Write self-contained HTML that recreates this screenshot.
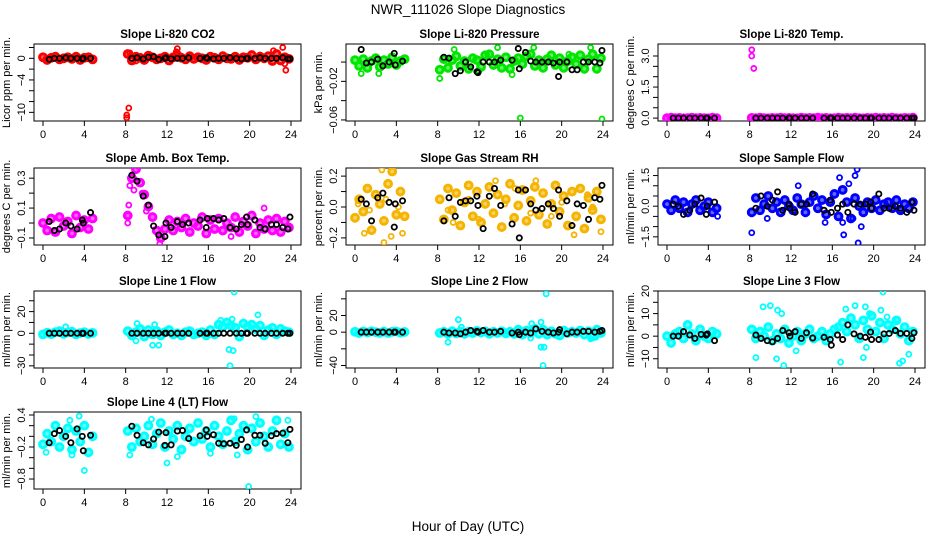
<!DOCTYPE html>
<html><head><meta charset="utf-8"><style>
html,body{margin:0;padding:0;background:#fff;}
svg{display:block;font-family:"Liberation Sans",sans-serif;}
</style></head><body>
<svg id="chart" width="936" height="540" viewBox="0 0 936 540" xmlns="http://www.w3.org/2000/svg">
<text x="468" y="14" text-anchor="middle" font-size="13.5">NWR_111026  Slope Diagnostics</text>
<text x="468" y="531" text-anchor="middle" font-size="13.5">Hour of Day (UTC)</text>
</svg>
<script>
const colorTimes=[0,0.4,0.8,1.2,1.6,2,2.4,2.8,3.2,3.6,4,4.4,4.8,8.2,8.6,9,9.4,9.8,10.2,10.6,11,11.4,11.8,12.2,12.6,13,13.4,13.8,14.2,14.6,15,15.4,15.8,16.2,16.6,17,17.4,17.8,18.2,18.6,19,19.4,19.8,20.2,20.6,21,21.4,21.8,22.2,22.6,23,23.4,23.8];
const blackTimes=[0.6,1.1,1.6,2.2,2.7,3.3,3.8,3.9,4.6,8.6,9.1,9.7,10.2,10.7,11.2,11.8,11.9,12.4,13.0,13.5,14.1,15.2,15.8,15.9,16.5,17.0,17.5,18.1,18.7,19.2,19.7,19.8,20.5,21.0,21.5,22.1,22.6,23.2,23.7,23.9];
const xTicks=[0,4,8,12,16,20,24];

const co2Color=[0.2,-0.3,0.1,0.3,-0.2,0,0.2,-0.1,0.3,-0.3,0.1,0.2,-0.2,0.8,-0.4,0.3,0.1,-0.3,0.5,0.2,-0.2,0,0.3,-0.4,0.2,0.6,0.1,-0.2,0.4,-0.1,0.2,0,-0.3,0.3,0.1,-0.2,0.4,0,-0.1,0.3,-0.3,0.2,0.1,0.6,-0.2,0.3,0,0.4,-0.5,0.8,-0.4,0.2,-0.1];
const co2Black=[-0.2,0,0,0.1,0,0,-0.1,0,0,0,0.1,-0.1,0.2,0.3,-0.2,0,0.1,-0.1,0,0,0.1,0,0.1,0,-0.1,0,0,0.1,0,-0.1,0,0,0,0.1,0,0,0,0.1,-0.1,-0.1];
const co2OutX=[8.1,8.1,8.3,8.4,8.5,13,12.9,22.3,23.2,23.5,23.4,9,21];
const co2OutY=[-10.5,-11,-9.2,1,0.5,1.8,1.2,1.4,2,-2.2,-1,-0.5,0.6];

const presColor=[0.002,-0.004,0.003,-0.006,0.001,0.004,-0.005,0.002,-0.002,0.005,-0.003,0.001,0.003,-0.008,0.003,-0.006,0.002,0.006,-0.004,0.001,-0.007,0.004,0.002,-0.005,0.007,0.008,-0.003,0.003,-0.006,0.005,-0.007,0.001,0.004,-0.002,0.006,0.008,-0.004,0.002,-0.006,0.003,0.007,-0.003,0.004,-0.006,0.001,0.005,-0.002,0.007,-0.007,0.003,0.008,-0.007,0.004];
const presBlack=[0.013,-0.001,0,0.003,-0.004,0,0.009,-0.003,0.001,0.005,0.004,-0.012,-0.009,0,-0.005,-0.01,-0.011,0,0,0,0.002,0.002,0.014,-0.007,0.01,0.001,0,0,0,-0.001,-0.015,0,0,-0.008,-0.008,0,0,0,-0.001,0.012];
const presOutX=[16,23.9,8.2,9.6,13.8,17.3,22.8,0.6,2.3,12.0,15.2,20.7];
const presOutY=[-0.058,-0.059,-0.017,0.013,0.015,0.015,0.015,-0.012,-0.012,-0.009,-0.013,0.008];

const ltColor=[0,0.02,0,0.01,-0.01,0,0.02,0,0.01,0,-0.01,0.02,0,0.01,0,0.02,0,-0.01,0.01,0,0.02,0,0.01,0,-0.01,0.02,0,0.01,0,0.02,0,0.01,-0.01,0,0.02,0,0.01,0,0.02,0,-0.01,0.01,0,0.02,0,0.01,0,0.02,0,-0.01,0.01,0,0.02];
const ltBlack=[0,0,0,0,0,0,0,0,0,0,0,0,0,0,0,0,0,0,0,0,0,0,0,0,0,0,0,0,0,0,0,0,0,0,0,0,0,0,0,0];
const ltOutX=[8.2,8.2,8.4];
const ltOutY=[3.3,3.0,2.4];

const abColor=[0,-0.05,0.03,-0.06,0.04,-0.02,0.01,-0.07,0.05,-0.03,0.02,-0.04,0.03,0.05,0.3,0.36,0.27,0.19,0.11,0.04,-0.05,-0.1,-0.04,0.02,-0.05,0.01,-0.03,0.03,-0.06,0,-0.02,0.04,-0.07,0.02,-0.04,0.03,-0.05,0,-0.03,0.04,-0.06,0.01,-0.02,0.05,-0.07,0,-0.04,0.02,-0.05,0.03,-0.06,0.01,-0.03];
const abBlack=[0.01,-0.05,-0.04,0,-0.02,-0.04,0.02,0,0.07,0.32,0.28,0.18,0.12,-0.02,-0.08,-0.09,0,-0.03,0.01,-0.01,0,0.02,-0.03,0.03,0.03,0.02,0.03,-0.03,-0.04,-0.01,0.04,-0.01,0.02,-0.03,-0.04,-0.01,-0.01,-0.03,-0.04,0.04];
const abOutX=[8.2,8.2,8.3,8.4,9.2,11.3,21.4,18.2,8.8,9.6,10.0];
const abOutY=[0.0,0.05,0.12,0.25,0.38,-0.14,0.1,-0.09,0.22,0.2,0.08];

const rhColor=[-0.07,0.05,-0.03,0.12,-0.15,0.08,0.02,-0.09,0.15,0.23,-0.05,0.1,-0.06,0.05,-0.08,0.12,-0.02,0.09,-0.12,0.03,0.14,-0.06,0.1,-0.1,0.02,0.13,-0.04,0.08,-0.13,0.05,0.15,-0.07,0.01,0.11,-0.09,0.04,0.13,-0.05,0.09,-0.11,0.02,0.14,-0.03,0.07,-0.12,0.1,-0.06,0.12,-0.14,0.06,-0.02,0.1,-0.08];
const rhBlack=[0.05,0.02,-0.09,0.06,0.09,0.03,-0.13,0.02,0.04,-0.09,0.06,-0.06,0.03,0.04,0.04,0.07,0.01,-0.14,0.07,0.12,0.01,-0.11,0.11,-0.2,0.11,0.02,-0.02,-0.01,0.02,-0.01,0.11,-0.06,0.04,-0.12,0.02,0.01,-0.08,0.06,0.05,0.14];
const rhOutX=[2.8,0.9,3.5,4.6,23.8,21.2,13.6,17.5,2.6,9.5,15.5,19.0,12.0,22.5,0.3,1.4,3.0,4.2,9.0,11.0,14.5,17.0,20.0,23.0];
const rhOutY=[-0.23,-0.17,-0.19,-0.17,-0.16,-0.18,0.17,0.17,0.24,-0.1,0.12,-0.06,-0.08,0.08,0.02,-0.02,0.05,0,-0.02,0.05,0.02,-0.04,0.03,0];

const sfColor=[0.1,-0.2,0.3,-0.1,0.2,-0.3,0.1,0.3,-0.2,0,0.2,-0.3,-0.1,-0.3,0.4,-0.2,0.1,0.5,-0.1,0.2,-0.3,0.3,0,-0.2,0.4,0.1,-0.3,0.2,0.5,-0.1,0.3,-0.4,0.2,0.6,-0.5,0.8,0.2,-0.6,0.4,0,-0.3,0.2,-0.1,0.3,-0.2,0.1,0.2,-0.1,0.3,-0.2,0.1,-0.1,0.2];
const sfBlack=[0.1,0,-0.4,-0.2,0.1,0.4,-0.4,0,0.2,-0.1,0.5,0,0.3,0.7,-0.2,0.1,-0.1,-0.3,0.1,0.1,0.6,-0.2,0.3,-0.3,-0.1,0.1,-0.3,0.1,0.1,0.1,0.2,-0.1,0.6,-0.1,-0.1,0,-0.1,-0.3,0.2,-0.2];
const sfOutX=[8.2,12.7,16.7,18.2,18.4,18.5,17.1,17.6,15.3,18.8,9.7,18.0,17.0,4.9];
const sfOutY=[-1.3,1.0,1.4,1.5,1.8,-1.8,-1.4,1.1,-0.8,-1.0,-0.6,-0.6,-0.8,-0.5];

const l1Color=[-1,0.5,-0.8,1,2,-0.5,0.8,1.5,-1,0.3,1,-0.6,0.4,2,-2,1,4,-3,3,-1,2,-2,1,3,-1,0,-2,1,2,-1,0,1,-2,3,-1,8,6,10,7,5,-3,9,6,8,4,7,-2,3,5,-1,4,2,1];
const l1Black=[0,0,0,0,0,0,0,0,0,0,0,0,0,0,0,0,0,0,0,0,0,0,0,0,0,0,0,0,0,0,0,0,0,0,0,0,0,0,0,0];
const l1OutX=[18.5,18.1,18.0,18.4,20.8,10.6,11.2,9.0,9.1,2.2,17.2,10.8,18.3];
const l1OutY=[38,-30,-15,-16,17,-11,-11,-7,9,6,12,8,13];

const l2Color=[0.5,-1,0.8,-0.5,1,0,-0.8,0.6,-1,0.4,0.8,-0.6,0.3,-1,0.5,-2,1,-1.5,0.8,-2,0.5,-1,1.5,-0.5,1,-2,0.5,-1,1,-1.5,0.5,-2,3,-3,2,-1,4,-2,3,-3,1,-2,-4,2,-1,0.5,-1,2,-3,1,-5,3,-1];
const l2Black=[0,0,0,0,0,0,0,0,0,0,-1,-1,-2,0,2,1,0,2,0,0,1,-1,0,-3,0,-1,4,1,0,-1,0,3,-2,0,0,1,1,0,1,2];
const l2OutX=[18.5,18.2,18.0,18.3,10.0,9.0,17.1,18.0,10.3,17.0,22.8,23.3];
const l2OutY=[46,-40,-18,-18,15,-12,10,12,6,-7,-8,-6];

const l3Color=[0,-3,1,2,-1,5,1,-2,3,0,-1,2,1,3,-1,2,0,4,-2,1,-1,3,-3,0,2,-2,1,3,-1,0,2,-2,1,3,4,6,2,8,5,-1,7,3,9,2,6,-1,5,3,7,1,4,-2,2];
const l3Black=[0,0,2,0.5,-1,0.8,0.5,1,-2,0.5,-1,-2,-2.5,-1,2.5,1.5,0,2,-1,1.5,-0.8,-0.5,-1.5,-4,0.5,-1.5,5,1,0,-0.5,1.8,-1.5,-1.5,1,1.2,2.5,1.2,1.2,-1,1.5];
const l3OutX=[9.3,10,10.7,11.1,8.6,10.6,11.3,16.8,12.5,19.0,19.3,18.2,19.2,20.7,20.9,22.5,22.8,23.4,17.3,19.6,21.3,22.3];
const l3OutY=[13,13.5,11.5,10,-9.5,-10,-13,-11.5,-6.5,-9.5,-5,13.5,13,11.5,19.5,-12,-11,-8,12,10,8.5,7.5];

const l4Color=[-0.15,0.05,-0.1,0.2,-0.2,0,0.15,-0.25,0.1,-0.1,0.2,-0.3,0,0.1,-0.2,0.15,-0.1,0,0.2,-0.15,0.05,0.25,-0.2,0.1,-0.05,0.2,-0.25,0,0.15,-0.1,0.25,-0.05,0.1,-0.2,0.2,0,-0.15,0.1,0.3,-0.1,0.05,0.2,-0.25,0.15,-0.1,0.25,0,-0.2,0.1,0.3,-0.15,0.05,-0.2];
const l4Black=[-0.12,0.05,0.11,0,-0.12,0.14,0,-0.27,0.02,0.19,0.02,-0.12,-0.16,-0.05,0.08,-0.17,0.07,-0.16,0.1,0.11,-0.04,0.01,0.12,0,0.03,-0.13,-0.14,-0.13,-0.17,-0.06,0.12,-0.2,0.02,0.02,-0.13,0.01,0.05,0.06,-0.12,0.13];
const l4OutX=[3.5,2.6,4.0,12.0,19.9,20.6,23.7,10.5,18.5,0.3,2.8,8.4,13,18.8,16.2];
const l4OutY=[0.38,0.3,-0.64,-0.5,-0.94,0.37,0.3,0.32,0.33,-0.3,-0.35,-0.35,-0.38,-0.35,-0.32];

const panels=[
 {name:'co2',title:'Slope Li-820 CO2',ylab:'Licor ppm per min.',col:0,row:0,y0:2.65,y1:-11.6,ticks:[2,0,-2,-4,-6,-8,-10],labels:[0,-4,-10],color:'#ff0000',c:co2Color,b:co2Black,ox:co2OutX,oy:co2OutY},
 {name:'pressure',title:'Slope Li-820 Pressure',ylab:'kPa per min.',col:1,row:0,y0:0.0187,y1:-0.0611,ticks:[0,-0.02,-0.04,-0.06],labels:[-0.02,-0.06],fmt:2,color:'#00e600',c:presColor,b:presBlack,ox:presOutX,oy:presOutY},
 {name:'li-temp',title:'Slope Li-820 Temp.',ylab:'degrees C per min.',col:2,row:0,y0:3.58,y1:-0.14,ticks:[0,0.5,1,1.5,2,2.5,3],labels:[0,1.5,3],fmt:1,color:'#ff00ff',c:ltColor,b:ltBlack,ox:ltOutX,oy:ltOutY},
 {name:'amb-box-temp',title:'Slope Amb. Box Temp.',ylab:'degrees C per min.',col:0,row:1,y0:0.368,y1:-0.147,ticks:[-0.1,0,0.1,0.2,0.3],labels:[-0.1,0.1,0.3],fmt:1,color:'#ff00ff',c:abColor,b:abBlack,ox:abOutX,oy:abOutY},
 {name:'gas-rh',title:'Slope Gas Stream RH',ylab:'percent per min.',col:1,row:1,y0:0.2525,y1:-0.246,ticks:[-0.2,-0.1,0,0.1,0.2],labels:[-0.2,0,0.2],fmt:1,color:'#f4b400',c:rhColor,b:rhBlack,ox:rhOutX,oy:rhOutY},
 {name:'sample-flow',title:'Slope Sample Flow',ylab:'ml/min per min.',col:2,row:1,y0:1.87,y1:-1.9,ticks:[-1.5,-1,-0.5,0,0.5,1,1.5],labels:[-1.5,0,1.5],fmt:1,color:'#0000ff',c:sfColor,b:sfBlack,ox:sfOutX,oy:sfOutY},
 {name:'line1-flow',title:'Slope Line 1 Flow',ylab:'ml/min per min.',col:0,row:2,y0:39,y1:-32,ticks:[-30,-20,-10,0,10,20,30],labels:[-30,0,20],color:'#00ffff',c:l1Color,b:l1Black,ox:l1OutX,oy:l1OutY},
 {name:'line2-flow',title:'Slope Line 2 Flow',ylab:'ml/min per min.',col:1,row:2,y0:49.4,y1:-43,ticks:[-40,-20,0,20,40],labels:[-40,0,20],color:'#00ffff',c:l2Color,b:l2Black,ox:l2OutX,oy:l2OutY},
 {name:'line3-flow',title:'Slope Line 3 Flow',ylab:'ml/min per min.',col:2,row:2,y0:20,y1:-14.1,ticks:[-10,-5,0,5,10,15,20],labels:[-10,0,10,20],color:'#00ffff',c:l3Color,b:l3Black,ox:l3OutX,oy:l3OutY},
 {name:'line4-flow',title:'Slope Line 4 (LT) Flow',ylab:'ml/min per min.',col:0,row:3,y0:0.456,y1:-0.987,ticks:[0.4,0.2,0,-0.2,-0.4,-0.6,-0.8],labels:[0.4,-0.2,-0.8],fmt:1,color:'#00ffff',c:l4Color,b:l4Black,ox:l4OutX,oy:l4OutY}
];
const NS='http://www.w3.org/2000/svg';
const svg=document.getElementById('chart');
const colLeft=[34,346,658], rowTop=[44,168,291,412], W=267, H=77;
function mk(tag,attrs,parent){const e=document.createElementNS(NS,tag);for(const k in attrs)e.setAttribute(k,attrs[k]);parent.appendChild(e);return e;}
panels.forEach(p=>{
  const L=colLeft[p.col], T=rowTop[p.row];
  const g=mk('g',{},svg);
  
  
  const xs=v=>L+9+v*(248/24);
  const ys=v=>T+(p.y0-v)/(p.y0-p.y1)*H;
  const cl=mk('clipPath',{id:'clip-'+p.name},g);
  mk('rect',{x:L,y:T,width:W,height:H},cl);
  const title=mk('text',{x:L+W/2,y:T-6,'text-anchor':'middle','font-size':'11.5','font-weight':'bold'},g);
  title.textContent=p.title;
  
  
  const yl=mk('text',{transform:`translate(${L-24},${T+H/2}) rotate(-90)`,'text-anchor':'middle','font-size':'11'},g);
  yl.textContent=p.ylab;
  
  
  const xa=mk('g',{},g);
  
  
  mk('line',{x1:xs(0),x2:xs(24),y1:T+H,y2:T+H,stroke:'#000'},xa);
  xTicks.forEach(t=>{
    mk('line',{x1:xs(t),x2:xs(t),y1:T+H,y2:T+H+5,stroke:'#000'},xa);
    const tl=mk('text',{x:xs(t),y:T+H+17,'text-anchor':'middle','font-size':'11'},xa);
    tl.textContent=t;
    
    
  });
  const ya=mk('g',{},g);
  
  
  const tmin=Math.min(...p.ticks), tmax=Math.max(...p.ticks);
  mk('line',{x1:L,x2:L,y1:ys(tmax),y2:ys(tmin),stroke:'#000'},ya);
  p.ticks.forEach(t=>{mk('line',{x1:L-5,x2:L,y1:ys(t),y2:ys(t),stroke:'#000'},ya);});
  p.labels.forEach(t=>{
    const s=p.fmt!==undefined?(t===0&&p.fmt===2?'0':t.toFixed(p.fmt)):String(t);
    const tl=mk('text',{transform:`translate(${L-9},${ys(t)}) rotate(-90)`,'text-anchor':'middle','font-size':'11'},ya);
    tl.textContent=s.replace('-','\u2212');
    
    
  });
  mk('rect',{x:L,y:T,width:W,height:H,fill:'none',stroke:'#000'},g);
  const pts=mk('g',{'clip-path':`url(#clip-${p.name})`},g);
  
  
  const n=Math.min(colorTimes.length,p.c.length);
  for(let i=0;i<n;i++){
    const c=mk('circle',{cx:xs(colorTimes[i]),cy:ys(p.c[i]),r:3.4,fill:p.color,'fill-opacity':0.6,stroke:p.color,'stroke-width':3},pts);
    
    
  }
  for(let i=0;i<Math.min(p.ox.length,p.oy.length);i++){
    const c=mk('circle',{cx:xs(p.ox[i]),cy:ys(p.oy[i]),r:2.5,fill:'none',stroke:p.color,'stroke-width':1.8},pts);
    
    
  }
  for(let i=0;i<Math.min(blackTimes.length,p.b.length);i++){
    const c=mk('circle',{cx:xs(blackTimes[i]),cy:ys(p.b[i]),r:2.6,fill:'none',stroke:'#000','stroke-width':1.8},pts);
    
    
  }
});
</script>
</body></html>
